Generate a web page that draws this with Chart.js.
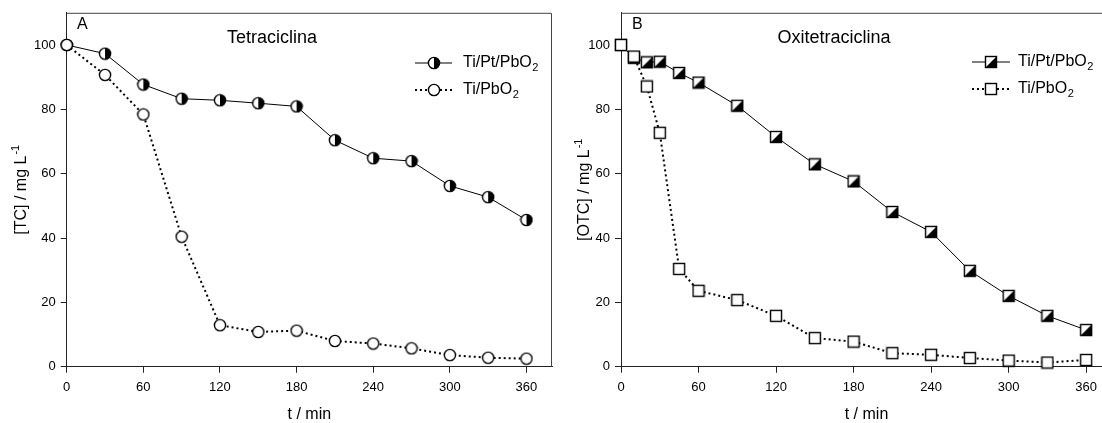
<!DOCTYPE html>
<html>
<head>
<meta charset="utf-8">
<script src="https://cdn.jsdelivr.net/npm/chart.js@4"></script>
<style>
  html, body { margin: 0; padding: 0; background: #fff; overflow: hidden; width: 1102px; height: 423px; }
  .panel { position: absolute; top: 0; }
</style>
</head>
<body>
<div class="panel" style="left:0"><canvas id="chartA" width="560" height="423"></canvas></div>
<div class="panel" style="left:560px"><canvas id="chartB" width="560" height="423"></canvas></div>
<script>
// panel A: tetracycline
const TIME_A = [0, 30, 60, 90, 120, 150, 180, 210, 240, 270, 300, 330, 360];
const TC_PT = [100, 97.3, 87.7, 83.3, 82.8, 81.9, 80.9, 70.4, 64.8, 63.9, 56.2, 52.7, 45.6];
const TC_PB = [100, 90.7, 78.4, 40.4, 12.9, 10.8, 11.2, 8, 7.2, 5.7, 3.6, 2.8, 2.5];

// panel B: oxytetracycline
const TIME_B = [0, 10, 20, 30, 45, 60, 90, 120, 150, 180, 210, 240, 270, 300, 330, 360];
const OTC_PT = [100, 96, 94.6, 94.8, 91.3, 88.3, 81.1, 71.4, 62.9, 57.6, 48.1, 41.9, 29.8, 22, 15.8, 11.4];
const OTC_PB = [100, 96.4, 87.1, 72.7, 30.4, 23.6, 20.7, 15.8, 8.9, 7.8, 4.2, 3.7, 2.7, 1.9, 1.3, 2.1];

const X_TICKS = [0, 60, 120, 180, 240, 300, 360];
const Y_TICKS = [0, 20, 40, 60, 80, 100];
const SERIES = ['Ti/Pt/PbO', 'Ti/PbO']; // subscript 2 added when drawn

const FONT = "'Liberation Sans', Arial, sans-serif";

function makeMarker(kind) {
  const c = document.createElement('canvas');
  c.width = 14; c.height = 14;
  const g = c.getContext('2d');
  g.lineWidth = 1.4;
  g.strokeStyle = '#000';
  if (kind === 'halfCircle' || kind === 'circle') {
    g.beginPath(); g.arc(7, 7, 5.6, 0, Math.PI * 2); g.fillStyle = '#fff'; g.fill();
    if (kind === 'halfCircle') {
      g.beginPath(); g.arc(7, 7, 5.6, -Math.PI / 2, Math.PI / 2); g.closePath();
      g.fillStyle = '#000'; g.fill();
    }
    g.beginPath(); g.arc(7, 7, 5.6, 0, Math.PI * 2); g.stroke();
  } else {
    g.fillStyle = '#fff'; g.fillRect(1.5, 1.5, 11, 11);
    if (kind === 'halfSquare') {
      g.beginPath(); g.moveTo(1.5, 12.5); g.lineTo(12.5, 12.5); g.lineTo(12.5, 1.5); g.closePath();
      g.fillStyle = '#000'; g.fill();
    }
    g.strokeRect(1.5, 1.5, 11, 11);
  }
  return c;
}

function textSub(ctx, x, y, main, sub, size) {
  ctx.font = size + 'px ' + FONT;
  ctx.fillText(main, x, y);
  const w = ctx.measureText(main).width;
  ctx.font = Math.round(size * 0.68) + 'px ' + FONT;
  ctx.fillText(sub, x + w + 0.5, y + size * 0.3);
}

function decor(o) {
  return {
    id: 'decor',
    afterDraw(chart) {
      const { ctx, chartArea: a } = chart;
      ctx.save();
      // frame top / right
      ctx.strokeStyle = '#444';
      ctx.lineWidth = 1;
      ctx.beginPath();
      ctx.moveTo(a.left, a.top + 0.5);
      ctx.lineTo(a.right - 0.5, a.top + 0.5);
      ctx.lineTo(a.right - 0.5, a.bottom);
      ctx.stroke();

      ctx.fillStyle = '#000';
      ctx.textBaseline = 'middle';
      ctx.textAlign = 'left';
      ctx.font = '16px ' + FONT;
      ctx.fillText(o.letter, o.letterX, 25);

      ctx.textAlign = 'center';
      ctx.font = '18px ' + FONT;
      ctx.fillText(o.title, o.titleX, 38);

      // legend
      ctx.textAlign = 'left';
      const rows = [
        { y: o.legY, img: o.ptImg, dash: [], w: 1, label: SERIES[0] },
        { y: o.legY + 27, img: o.pbImg, dash: [2, 3], w: 2, label: SERIES[1] }
      ];
      rows.forEach(r => {
        ctx.strokeStyle = '#000';
        ctx.lineWidth = r.w;
        ctx.setLineDash(r.dash);
        ctx.beginPath();
        ctx.moveTo(o.legX0, r.y); ctx.lineTo(o.legX1, r.y);
        ctx.stroke();
        ctx.setLineDash([]);
        const m = (o.legX0 + o.legX1) / 2;
        ctx.drawImage(r.img, Math.round(m - 7), Math.round(r.y - 7));
        textSub(ctx, o.legText, r.y, r.label, '2', 16);
      });

      // y axis title with superscript
      ctx.save();
      ctx.translate(o.yTitleX, (a.top + a.bottom) / 2);
      ctx.rotate(-Math.PI / 2);
      ctx.font = '16px ' + FONT;
      const main = o.yTitle;
      const w1 = ctx.measureText(main).width;
      ctx.font = '11px ' + FONT;
      const w2 = ctx.measureText('-1').width;
      const x0 = -(w1 + w2 + 1) / 2;
      ctx.font = '16px ' + FONT;
      ctx.fillText(main, x0, 0);
      ctx.font = '11px ' + FONT;
      ctx.fillText('-1', x0 + w1 + 1, -6);
      ctx.restore();

      ctx.restore();
    }
  };
}

function buildChart(id, o) {
  const tickFont = { family: FONT, size: 13 };
  return new Chart(document.getElementById(id), {
    type: 'line',
    data: {
      datasets: [
        {
          label: SERIES[0] + '2',
          data: o.times.map((t, i) => ({ x: t, y: o.pt[i] })),
          borderColor: '#000', borderWidth: 1,
          pointStyle: o.ptImg, pointRadius: 6, order: 1, clip: false
        },
        {
          label: SERIES[1] + '2',
          data: o.times.map((t, i) => ({ x: t, y: o.pb[i] })),
          borderColor: '#000', borderWidth: 2, borderDash: [2, 3],
          pointStyle: o.pbImg, pointRadius: 6, order: 0, clip: false
        }
      ]
    },
    options: {
      responsive: false,
      animation: false,
      layout: { padding: { top: 12, right: o.padRight, left: 0, bottom: 0 } },
      elements: { line: { tension: 0 } },
      plugins: { legend: { display: false }, tooltip: { enabled: false } },
      scales: {
        x: {
          type: 'linear', min: 0, max: 380,
          afterBuildTicks: s => { s.ticks = X_TICKS.map(v => ({ value: v })); },
          afterFit: s => { s.height = 56.3; },
          grid: { drawOnChartArea: false, tickLength: 6, color: '#222' },
          border: { color: '#222' },
          ticks: { font: tickFont, color: '#000', padding: 7, maxRotation: 0 },
          title: { display: true, text: 't / min', color: '#000', font: { family: FONT, size: 16, lineHeight: 1 }, padding: 0 }
        },
        y: {
          min: 0, max: 110,
          afterBuildTicks: s => { s.ticks = Y_TICKS.map(v => ({ value: v })); },
          afterFit: s => { s.width = o.yWidth; },
          grid: { drawOnChartArea: false, tickLength: 6, color: '#222' },
          border: { color: '#222' },
          ticks: { font: tickFont, color: '#000', padding: 5 }
        }
      }
    },
    plugins: [decor(o)]
  });
}

const halfCircle = makeMarker('halfCircle');
const circle = makeMarker('circle');
const halfSquare = makeMarker('halfSquare');
const square = makeMarker('square');

buildChart('chartA', {
  times: TIME_A, pt: TC_PT, pb: TC_PB, ptImg: halfCircle, pbImg: circle,
  yWidth: 66.7, padRight: 2,
  letter: 'A', letterX: 77, title: 'Tetraciclina', titleX: 272,
  legY: 63, legX0: 415, legX1: 452, legText: 463,
  yTitle: '[TC] / mg L', yTitleX: 22
});

buildChart('chartB', {
  times: TIME_B, pt: OTC_PT, pb: OTC_PB, ptImg: halfSquare, pbImg: square,
  yWidth: 61, padRight: 6.6,
  letter: 'B', letterX: 72, title: 'Oxitetraciclina', titleX: 274,
  legY: 62, legX0: 412, legX1: 450, legText: 458,
  yTitle: '[OTC] / mg L', yTitleX: 25
});
</script>
</body>
</html>
